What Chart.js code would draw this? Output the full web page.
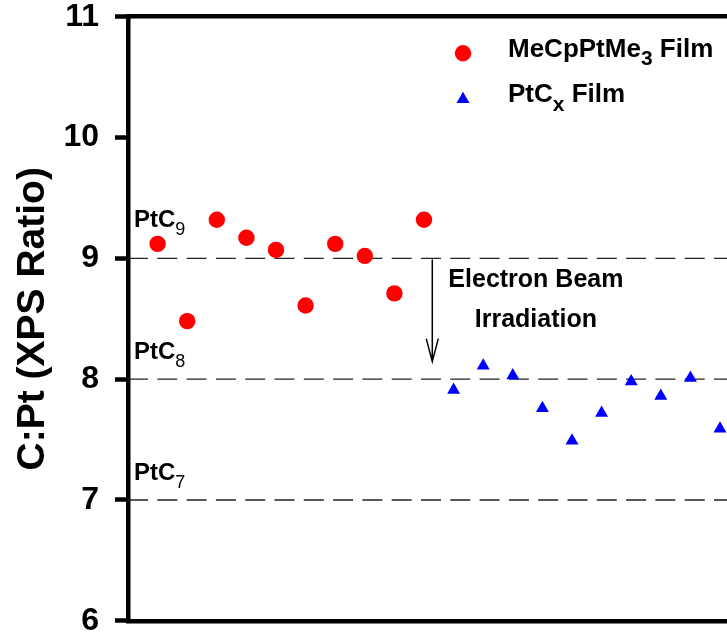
<!DOCTYPE html>
<html>
<head>
<meta charset="utf-8">
<title>C:Pt ratio</title>
<script src="https://cdn.jsdelivr.net/npm/chart.js@4.4.1/dist/chart.umd.min.js"></script>
<style>
  html, body { margin: 0; padding: 0; background: #fff; overflow: hidden; }
  #wrap { width: 780px; height: 680px; }
</style>
</head>
<body>
<div id="wrap"><canvas id="ratioChart" width="780" height="680"></canvas></div>
<script>
const FONT = "'Liberation Sans', Arial, Helvetica, sans-serif";

// sample index along x, C:Pt ratio from XPS on y
const precursorSample = [1, 2, 3, 4, 5, 6, 7, 8, 9, 10];
const precursorRatio = [9.12, 8.48, 9.32, 9.17, 9.07, 8.61, 9.12, 9.02, 8.71, 9.32];
const irradiatedSample = [11, 12, 13, 14, 15, 16, 17, 18, 19, 20];
const irradiatedRatio = [7.91, 8.11, 8.03, 7.76, 7.49, 7.72, 7.98, 7.86, 8.01, 7.59];

// reference stoichiometries PtC9 / PtC8 / PtC7
const phaseLevels = [9, 8, 7];
const phaseSubs = ["9", "8", "7"];

const yTicks = [6, 7, 8, 9, 10, 11];
const xRange = [0, 21];

// where the annotations sit (data units / pixels)
const phaseLabelX = 0.2;
const phaseLabelRise = [31, 20, 20];
const beamArrow = { x: 10.28, from: 8.99, to: 8.145 };
const beamText = ["Electron Beam", "Irradiation"];
const beamTextPos = { x: 13.78, y: [8.76, 8.432] };

const precursorStyle = { pointStyle: "circle", radius: 8.2, color: "#ff0000" };
const irradiatedStyle = { pointStyle: "triangle", radius: 7.5, color: "#0000ff" };

function toPoints(xs, ys) {
  return xs.map((x, i) => ({ x: x, y: ys[i] }));
}

// draws a run of text pieces, each with its own font and baseline shift
function drawRuns(ctx, x, y, runs, align) {
  let width = 0;
  runs.forEach((r) => {
    ctx.font = r.font;
    width += ctx.measureText(r.text).width;
  });
  let cx = align === "center" ? x - width / 2 : x;
  ctx.textAlign = "left";
  ctx.textBaseline = "alphabetic";
  runs.forEach((r) => {
    ctx.font = r.font;
    ctx.fillText(r.text, cx, y + (r.dy || 0));
    cx += ctx.measureText(r.text).width;
  });
}

const annotations = {
  id: "annotations",
  afterDatasetsDraw(chart) {
    const ctx = chart.ctx;
    const xs = chart.scales.x;
    const ys = chart.scales.y;
    ctx.save();
    ctx.fillStyle = "#000";

    // PtCn labels above the dashed levels
    phaseLevels.forEach((lvl, i) => {
      drawRuns(ctx, xs.getPixelForValue(phaseLabelX), ys.getPixelForValue(lvl) - phaseLabelRise[i], [
        { text: "PtC", font: "bold 24px " + FONT },
        { text: phaseSubs[i], font: "18px " + FONT, dy: 8 },
      ]);
    });

    // beam arrow
    const ax = xs.getPixelForValue(beamArrow.x);
    const ay0 = ys.getPixelForValue(beamArrow.from);
    const ay1 = ys.getPixelForValue(beamArrow.to);
    ctx.strokeStyle = "#000";
    ctx.lineWidth = 1.5;
    ctx.beginPath();
    ctx.moveTo(ax, ay0);
    ctx.lineTo(ax, ay1);
    ctx.moveTo(ax - 6, ay1 - 23);
    ctx.lineTo(ax, ay1);
    ctx.lineTo(ax + 6, ay1 - 23);
    ctx.stroke();

    beamText.forEach((t, i) => {
      drawRuns(ctx, xs.getPixelForValue(beamTextPos.x), ys.getPixelForValue(beamTextPos.y[i]),
        [{ text: t, font: "bold 25px " + FONT }], "center");
    });

    // legend
    const area = chart.chartArea;
    const lx = area.left + 335;
    const entries = [
      { style: precursorStyle, y: area.top + 36.5, base: area.top + 40.6,
        runs: [["MeCpPtMe", 0, "bold 26px "], ["3", 8, "bold 21px "], [" Film", 0, "bold 26px "]] },
      { style: irradiatedStyle, y: area.top + 82.5, base: area.top + 85,
        runs: [["PtC", 0, "bold 26px "], ["x", 9, "bold 21px "], [" Film", 0, "bold 26px "]] },
    ];
    entries.forEach((e) => {
      ctx.fillStyle = e.style.color;
      Chart.helpers.drawPoint(ctx, { pointStyle: e.style.pointStyle, radius: e.style.radius, rotation: 0, borderWidth: 0 }, lx, e.y);
      ctx.fillStyle = "#000";
      drawRuns(ctx, lx + 45, e.base, e.runs.map((r) => ({ text: r[0], dy: r[1], font: r[2] + FONT })));
    });
    ctx.restore();
  },
};

const levelSets = phaseLevels.map((lvl) => ({
  type: "line",
  data: [{ x: xRange[0], y: lvl }, { x: xRange[1], y: lvl }],
  borderColor: "#222",
  borderWidth: 1.3,
  borderDash: [20, 9.3],
  pointRadius: 0,
  fill: false,
}));

const frameAxis = (position) => ({
  type: "linear",
  position: position,
  min: xRange[0],
  max: xRange[1],
  ticks: { display: false },
  grid: { display: false },
  border: { display: true, color: "#000", width: 4.5 },
  afterFit: (s) => { s.height = 0; },
});

new Chart(document.getElementById("ratioChart"), {
  type: "scatter",
  data: {
    datasets: [
      {
        label: "MeCpPtMe3 Film",
        data: toPoints(precursorSample, precursorRatio),
        pointStyle: precursorStyle.pointStyle,
        pointRadius: precursorStyle.radius,
        backgroundColor: precursorStyle.color,
        borderWidth: 0,
      },
      {
        label: "PtCx Film",
        data: toPoints(irradiatedSample, irradiatedRatio),
        pointStyle: irradiatedStyle.pointStyle,
        pointRadius: irradiatedStyle.radius,
        backgroundColor: irradiatedStyle.color,
        borderWidth: 0,
      },
      ...levelSets,
    ],
  },
  options: {
    responsive: false,
    devicePixelRatio: 1,
    animation: false,
    events: [],
    layout: { autoPadding: false, padding: { left: 0, top: 16.7, right: 30.4, bottom: 59.2 } },
    plugins: { legend: { display: false }, tooltip: { enabled: false } },
    scales: {
      x: frameAxis("bottom"),
      x2: frameAxis("top"),
      y: {
        type: "linear",
        position: "left",
        min: yTicks[0],
        max: yTicks[yTicks.length - 1],
        afterBuildTicks: (s) => { s.ticks = yTicks.map((v) => ({ value: v })); },
        afterFit: (s) => {
          // fixed axis width; the layout padding already leaves room for the end labels
          s.width = 128;
          s.paddingTop = 0;
          s.paddingBottom = 0;
        },
        ticks: { color: "#000", padding: 16, font: { family: FONT, size: 32, weight: "bold" } },
        grid: { drawOnChartArea: false, drawTicks: true, tickLength: 13, tickWidth: 4.5, tickColor: "#000" },
        border: { display: true, color: "#000", width: 4.5 },
        title: {
          display: true,
          text: "C:Pt (XPS Ratio)",
          color: "#000",
          padding: { top: 10, bottom: 0 },
          font: { family: FONT, size: 39, weight: "bold", lineHeight: 1.2 },
        },
      },
    },
  },
  plugins: [annotations],
});
</script>
</body>
</html>
